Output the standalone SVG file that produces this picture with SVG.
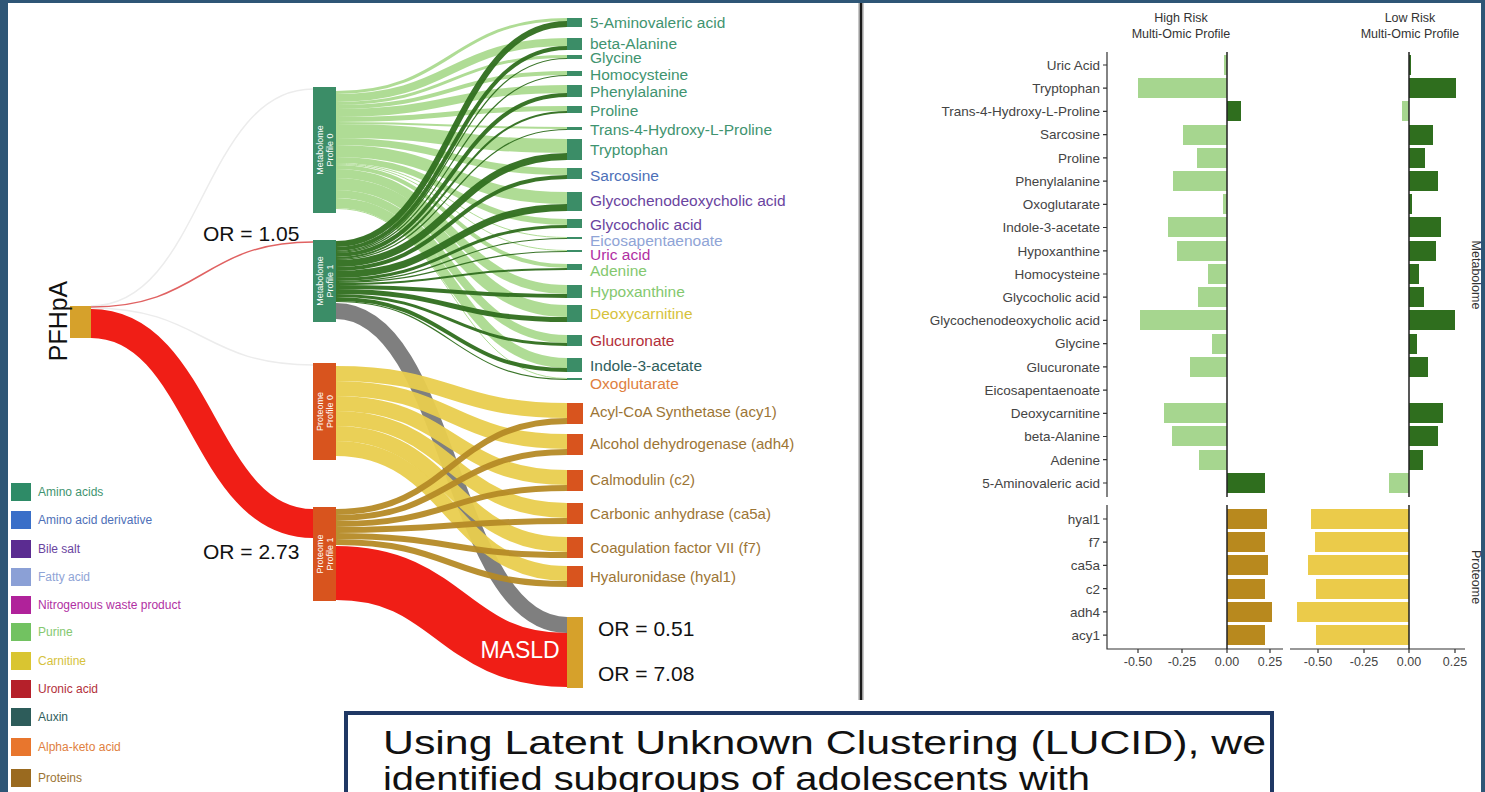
<svg xmlns="http://www.w3.org/2000/svg" width="1485" height="792" viewBox="0 0 1485 792">
<style>
text{font-family:"Liberation Sans",Arial,sans-serif}
.ml{font-size:15.5px}
.pl{font-size:15px;fill:#9C7535}
.am{fill:#3F9470}.de{fill:#4E70B8}.bi{fill:#6A44A0}.fa{fill:#8FA4D6}.ni{fill:#B12FA3}.pu{fill:#84C86F}.ca{fill:#D6C23C}.ur{fill:#B3303A}.au{fill:#2F5E5C}.ke{fill:#E0803E}
.or{font-size:21px;fill:#111}
.nl{font-size:9px;fill:#fff;text-anchor:middle}
.ax{font-size:13.5px;fill:#444;text-anchor:end}
.tk{font-size:12.5px;fill:#444;text-anchor:middle}
.hd{font-size:12.5px;fill:#333;text-anchor:middle}
.lg{font-size:12px}
.l0{fill:none;stroke:#A8D98C;stroke-opacity:.92}
.l1{fill:none;stroke:#2F6E1E;stroke-opacity:.95}
.y0{fill:none;stroke:#E9CD4E;stroke-opacity:.95}
.y1{fill:none;stroke:#B58A26;stroke-opacity:.95}
.mn{fill:#3B8D67}.pn{fill:#D8541E}.gd{fill:#D6A12B}
.bl{fill:#A6D68F}.bd{fill:#2F6E1E}.bo{fill:#B8891E}.by{fill:#EBCB4A}
.axl{stroke:#333;stroke-width:1.2;fill:none}
.zl{stroke:#222;stroke-width:1.5}
</style>
<rect width="1485" height="792" fill="#2E5676"/>
<rect x="8" y="3" width="1473" height="789" fill="#fff"/>
<line x1="861" y1="3" x2="861" y2="700" stroke="#c8c8c8" stroke-width="6"/>
<line x1="861" y1="3" x2="861" y2="700" stroke="#1a1a1a" stroke-width="2.5"/>

<g id="connectors">
<path d="M91 306C202 306 202 89 313 89" stroke="#ececec" stroke-width="1.5" fill="none"/>
<path d="M91 308C202 308 202 365 313 365" stroke="#ececec" stroke-width="1.5" fill="none"/>
<path d="M91 307C202 307 202 242 313 242" stroke="#E06262" stroke-width="1.5" fill="none"/>
<path d="M91 323.5C202 323.5 202 523.5 313 523.5" stroke="#F01E16" stroke-width="29" fill="none"/>
<g class="l0">
<path d="M336 92.5C451 92.5 451 19.5 567 19.5" stroke-width="3"/>
<path d="M336 98C451 98 451 42 567 42" stroke-width="8"/>
<path d="M336 103.5C451 103.5 451 56.5 567 56.5" stroke-width="3"/>
<path d="M336 107C451 107 451 73 567 73" stroke-width="4"/>
<path d="M336 113C451 113 451 89 567 89" stroke-width="8"/>
<path d="M336 119.5C451 119.5 451 108.5 567 108.5" stroke-width="5"/>
<path d="M336 123C451 123 451 128 567 128" stroke-width="2"/>
<path d="M336 131C451 131 451 146 567 146" stroke-width="14"/>
<path d="M336 141.5C451 141.5 451 171.5 567 171.5" stroke-width="7"/>
<path d="M336 151C451 151 451 198 567 198" stroke-width="12"/>
<path d="M336 160C451 160 451 222 567 222" stroke-width="6"/>
<path d="M336 163.5C451 163.5 451 237.5 567 237.5" stroke-width="1"/>
<path d="M336 164.5C451 164.5 451 250.5 567 250.5" stroke-width="1"/>
<path d="M336 167C451 167 451 266 567 266" stroke-width="4"/>
<path d="M336 173.5C451 173.5 451 289.5 567 289.5" stroke-width="9"/>
<path d="M336 184C451 184 451 311 567 311" stroke-width="12"/>
<path d="M336 194C451 194 451 339 567 339" stroke-width="8"/>
<path d="M336 203C451 203 451 363 567 363" stroke-width="10"/>
<path d="M336 208.5C451 208.5 451 378.5 567 378.5" stroke-width="1"/>
</g>
<g class="l1">
<path d="M336 244C451 244 451 24 567 24" stroke-width="6"/>
<path d="M336 249C451 249 451 48 567 48" stroke-width="4"/>
<path d="M336 251.5C451 251.5 451 58.5 567 58.5" stroke-width="1.2"/>
<path d="M336 252.5C451 252.5 451 75.5 567 75.5" stroke-width="1.2"/>
<path d="M336 255C451 255 451 95 567 95" stroke-width="4"/>
<path d="M336 258C451 258 451 112 567 112" stroke-width="2"/>
<path d="M336 259.5C451 259.5 451 129.5 567 129.5" stroke-width="1.2"/>
<path d="M336 263.5C451 263.5 451 156.5 567 156.5" stroke-width="7"/>
<path d="M336 269C451 269 451 177 567 177" stroke-width="4"/>
<path d="M336 274.5C451 274.5 451 207.5 567 207.5" stroke-width="7"/>
<path d="M336 279.5C451 279.5 451 226.5 567 226.5" stroke-width="3"/>
<path d="M336 281.5C451 281.5 451 238.5 567 238.5" stroke-width="1.2"/>
<path d="M336 282.5C451 282.5 451 251.5 567 251.5" stroke-width="1.2"/>
<path d="M336 284C451 284 451 269 567 269" stroke-width="2"/>
<path d="M336 287C451 287 451 296 567 296" stroke-width="4"/>
<path d="M336 291.5C451 291.5 451 319.5 567 319.5" stroke-width="5"/>
<path d="M336 295.5C451 295.5 451 344.5 567 344.5" stroke-width="3"/>
<path d="M336 299C451 299 451 370 567 370" stroke-width="4"/>
<path d="M336 301.5C451 301.5 451 379.5 567 379.5" stroke-width="1.2"/>
</g>
<path d="M336 311C451 311 451 625 567 625" stroke="#7F7F7F" stroke-width="16" fill="none"/>
<g class="y0" stroke-width="15">
<path d="M336 373.5C451 373.5 451 410.5 567 410.5"/>
<path d="M336 388.5C451 388.5 451 441.5 567 441.5"/>
<path d="M336 403.5C451 403.5 451 477.5 567 477.5"/>
<path d="M336 418.5C451 418.5 451 510.5 567 510.5"/>
<path d="M336 433.5C451 433.5 451 544.5 567 544.5"/>
<path d="M336 448.5C451 448.5 451 573.5 567 573.5"/>
</g>
<g class="y1" stroke-width="6">
<path d="M336 512C451 512 451 421 567 421"/>
<path d="M336 518C451 518 451 452 567 452"/>
<path d="M336 524C451 524 451 488 567 488"/>
<path d="M336 530C451 530 451 521 567 521"/>
<path d="M336 536C451 536 451 555 567 555"/>
<path d="M336 542C451 542 451 584 567 584"/>
</g>
<path d="M336 573C451 573 451 660 567 660" stroke="#F01E16" stroke-width="54" fill="none"/>
</g>

<g id="node-pfhpa">
<rect class="gd" x="70" y="306" width="21" height="32"/>
<text transform="translate(67,321) rotate(-90)" font-size="25" fill="#111" text-anchor="middle">PFHpA</text>
</g>
<g id="node-mp0"><rect class="mn" x="313" y="87" width="23" height="126"/>
<text class="nl" transform="translate(324.5,150) rotate(-90)"><tspan x="0" y="-2">Metabolome</tspan><tspan x="0" y="8">Profile 0</tspan></text></g>
<g id="node-mp1"><rect class="mn" x="313" y="240" width="23" height="82"/>
<text class="nl" transform="translate(324.5,281) rotate(-90)"><tspan x="0" y="-2">Metabolome</tspan><tspan x="0" y="8">Profile 1</tspan></text></g>
<g id="node-pp0"><rect class="pn" x="313" y="363" width="23" height="97"/>
<text class="nl" transform="translate(324.5,411.5) rotate(-90)"><tspan x="0" y="-2">Proteome</tspan><tspan x="0" y="8">Profile 0</tspan></text></g>
<g id="node-pp1"><rect class="pn" x="313" y="507" width="23" height="94"/>
<text class="nl" transform="translate(324.5,554) rotate(-90)"><tspan x="0" y="-2">Proteome</tspan><tspan x="0" y="8">Profile 1</tspan></text></g>

<g id="metabolite-nodes" class="mn">
<rect x="567" y="18" width="15" height="9"/>
<rect x="567" y="38" width="15" height="12"/>
<rect x="567" y="55" width="15" height="4"/>
<rect x="567" y="71" width="15" height="5"/>
<rect x="567" y="85" width="15" height="12"/>
<rect x="567" y="106" width="15" height="7"/>
<rect x="567" y="127" width="15" height="3"/>
<rect x="567" y="139" width="15" height="21"/>
<rect x="567" y="168" width="15" height="11"/>
<rect x="567" y="192" width="15" height="19"/>
<rect x="567" y="219" width="15" height="9"/>
<rect x="567" y="237" width="15" height="2"/>
<rect x="567" y="250" width="15" height="2"/>
<rect x="567" y="264" width="15" height="6"/>
<rect x="567" y="285" width="15" height="13"/>
<rect x="567" y="305" width="15" height="17"/>
<rect x="567" y="335" width="15" height="11"/>
<rect x="567" y="358" width="15" height="14"/>
<rect x="567" y="378" width="15" height="2"/>
</g>
<g id="metabolite-labels" class="ml">
<text class="am" x="590" y="28">5-Aminovaleric acid</text>
<text class="am" x="590" y="48.5">beta-Alanine</text>
<text class="am" x="590" y="63">Glycine</text>
<text class="am" x="590" y="80">Homocysteine</text>
<text class="am" x="590" y="97">Phenylalanine</text>
<text class="am" x="590" y="116">Proline</text>
<text class="am" x="590" y="135">Trans-4-Hydroxy-L-Proline</text>
<text class="am" x="590" y="155">Tryptophan</text>
<text class="de" x="590" y="181">Sarcosine</text>
<text class="bi" x="590" y="206">Glycochenodeoxycholic acid</text>
<text class="bi" x="590" y="230">Glycocholic acid</text>
<text class="fa" x="590" y="245.5">Eicosapentaenoate</text>
<text class="ni" x="590" y="260">Uric acid</text>
<text class="pu" x="590" y="276">Adenine</text>
<text class="pu" x="590" y="297">Hypoxanthine</text>
<text class="ca" x="590" y="319">Deoxycarnitine</text>
<text class="ur" x="590" y="346">Glucuronate</text>
<text class="au" x="590" y="371">Indole-3-acetate</text>
<text class="ke" x="590" y="389">Oxoglutarate</text>
</g>
<g id="protein-nodes" class="pn">
<rect x="567" y="403" width="16" height="21"/>
<rect x="567" y="434" width="16" height="21"/>
<rect x="567" y="470" width="16" height="21"/>
<rect x="567" y="503" width="16" height="21"/>
<rect x="567" y="537" width="16" height="21"/>
<rect x="567" y="566" width="16" height="21"/>
</g>
<g id="protein-labels" class="pl">
<text x="590" y="417">Acyl-CoA Synthetase (acy1)</text>
<text x="590" y="449">Alcohol dehydrogenase (adh4)</text>
<text x="590" y="485">Calmodulin (c2)</text>
<text x="590" y="519">Carbonic anhydrase (ca5a)</text>
<text x="590" y="553">Coagulation factor VII (f7)</text>
<text x="590" y="582">Hyaluronidase (hyal1)</text>
</g>
<g id="node-masld">
<rect class="gd" x="567" y="617" width="16" height="71"/>
<text x="520" y="658" font-size="23" fill="#fff" text-anchor="middle">MASLD</text>
</g>
<g id="or-labels" class="or">
<text x="203" y="241">OR = 1.05</text>
<text x="203" y="559">OR = 2.73</text>
<text x="598" y="636">OR = 0.51</text>
<text x="598" y="681">OR = 7.08</text>
</g>

<g id="legend" class="lg">
<rect x="11" y="483" width="20" height="18" fill="#2E8B67"/><text x="38" y="496" class="am">Amino acids</text>
<rect x="11" y="511" width="20" height="18" fill="#3A6FC8"/><text x="38" y="524" class="de">Amino acid derivative</text>
<rect x="11" y="540" width="20" height="18" fill="#5B2C91"/><text x="38" y="553" class="bi">Bile salt</text>
<rect x="11" y="568" width="20" height="18" fill="#8BA0D6"/><text x="38" y="581" class="fa">Fatty acid</text>
<rect x="11" y="596" width="20" height="18" fill="#B0229A"/><text x="38" y="609" class="ni">Nitrogenous waste product</text>
<rect x="11" y="623" width="20" height="18" fill="#72C261"/><text x="38" y="636" class="pu">Purine</text>
<rect x="11" y="652" width="20" height="18" fill="#D9C531"/><text x="38" y="665" class="ca">Carnitine</text>
<rect x="11" y="680" width="20" height="18" fill="#B5202A"/><text x="38" y="693" class="ur">Uronic acid</text>
<rect x="11" y="708" width="20" height="18" fill="#2D5C5A"/><text x="38" y="721" class="au">Auxin</text>
<rect x="11" y="738" width="20" height="18" fill="#E8762D"/><text x="38" y="751" class="ke">Alpha-keto acid</text>
<rect x="11" y="769" width="20" height="18" fill="#9A6A1F"/><text x="38" y="782" fill="#9C7535">Proteins</text>
</g>

<g id="bar-chart">
<text class="hd" x="1181" y="22">High Risk</text>
<text class="hd" x="1181" y="38">Multi-Omic Profile</text>
<text class="hd" x="1410" y="22">Low Risk</text>
<text class="hd" x="1410" y="38">Multi-Omic Profile</text>
<g id="y-labels" class="ax">
<text x="1100" y="70">Uric Acid</text>
<text x="1100" y="93">Tryptophan</text>
<text x="1100" y="116">Trans-4-Hydroxy-L-Proline</text>
<text x="1100" y="139">Sarcosine</text>
<text x="1100" y="163">Proline</text>
<text x="1100" y="186">Phenylalanine</text>
<text x="1100" y="209">Oxoglutarate</text>
<text x="1100" y="232">Indole-3-acetate</text>
<text x="1100" y="256">Hypoxanthine</text>
<text x="1100" y="279">Homocysteine</text>
<text x="1100" y="302">Glycocholic acid</text>
<text x="1100" y="325">Glycochenodeoxycholic acid</text>
<text x="1100" y="348">Glycine</text>
<text x="1100" y="372">Glucuronate</text>
<text x="1100" y="395">Eicosapentaenoate</text>
<text x="1100" y="418">Deoxycarnitine</text>
<text x="1100" y="441">beta-Alanine</text>
<text x="1100" y="465">Adenine</text>
<text x="1100" y="488">5-Aminovaleric acid</text>
<text x="1100" y="524">hyal1</text>
<text x="1100" y="547">f7</text>
<text x="1100" y="570">ca5a</text>
<text x="1100" y="594">c2</text>
<text x="1100" y="617">adh4</text>
<text x="1100" y="640">acy1</text>
</g>
<g id="bars-high">
<rect class="bl" x="1224" y="55" width="3" height="20"/>
<rect class="bl" x="1138" y="78" width="89" height="20"/>
<rect class="bd" x="1227" y="101" width="14" height="20"/>
<rect class="bl" x="1183" y="125" width="44" height="20"/>
<rect class="bl" x="1197" y="148" width="30" height="20"/>
<rect class="bl" x="1173" y="171" width="54" height="20"/>
<rect class="bl" x="1223" y="194" width="4" height="20"/>
<rect class="bl" x="1168" y="217" width="59" height="20"/>
<rect class="bl" x="1177" y="241" width="50" height="20"/>
<rect class="bl" x="1208" y="264" width="19" height="20"/>
<rect class="bl" x="1198" y="287" width="29" height="20"/>
<rect class="bl" x="1140" y="310" width="87" height="20"/>
<rect class="bl" x="1212" y="334" width="15" height="20"/>
<rect class="bl" x="1190" y="357" width="37" height="20"/>
<rect class="bl" x="1164" y="403" width="63" height="20"/>
<rect class="bl" x="1172" y="426" width="55" height="20"/>
<rect class="bl" x="1199" y="450" width="28" height="20"/>
<rect class="bd" x="1227" y="473" width="38" height="20"/>
<rect class="bo" x="1227" y="509" width="40" height="20"/>
<rect class="bo" x="1227" y="532" width="38" height="20"/>
<rect class="bo" x="1227" y="555" width="41" height="20"/>
<rect class="bo" x="1227" y="579" width="38" height="20"/>
<rect class="bo" x="1227" y="602" width="45" height="20"/>
<rect class="bo" x="1227" y="625" width="38" height="20"/>
</g>
<g id="bars-low">
<rect class="bd" x="1409" y="55" width="2" height="20"/>
<rect class="bd" x="1409" y="78" width="47" height="20"/>
<rect class="bl" x="1402" y="101" width="7" height="20"/>
<rect class="bd" x="1409" y="125" width="24" height="20"/>
<rect class="bd" x="1409" y="148" width="16" height="20"/>
<rect class="bd" x="1409" y="171" width="29" height="20"/>
<rect class="bd" x="1409" y="194" width="3" height="20"/>
<rect class="bd" x="1409" y="217" width="32" height="20"/>
<rect class="bd" x="1409" y="241" width="27" height="20"/>
<rect class="bd" x="1409" y="264" width="10" height="20"/>
<rect class="bd" x="1409" y="287" width="15" height="20"/>
<rect class="bd" x="1409" y="310" width="46" height="20"/>
<rect class="bd" x="1409" y="334" width="8" height="20"/>
<rect class="bd" x="1409" y="357" width="19" height="20"/>
<rect class="bd" x="1409" y="403" width="34" height="20"/>
<rect class="bd" x="1409" y="426" width="29" height="20"/>
<rect class="bd" x="1409" y="450" width="14" height="20"/>
<rect class="bl" x="1389" y="473" width="20" height="20"/>
<rect class="by" x="1311" y="509" width="98" height="20"/>
<rect class="by" x="1315" y="532" width="94" height="20"/>
<rect class="by" x="1308" y="555" width="101" height="20"/>
<rect class="by" x="1316" y="579" width="93" height="20"/>
<rect class="by" x="1297" y="602" width="112" height="20"/>
<rect class="by" x="1316" y="625" width="93" height="20"/>
</g>
<g id="axes">
<path class="axl" d="M1107 52V497M1107 505V649H1283M1290 649H1465"/>
<path class="axl" d="M1103 65H1107M1103 88.2H1107M1103 111.4H1107M1103 134.7H1107M1103 157.9H1107M1103 181.1H1107M1103 204.3H1107M1103 227.5H1107M1103 250.8H1107M1103 274H1107M1103 297.2H1107M1103 320.4H1107M1103 343.6H1107M1103 366.9H1107M1103 390.1H1107M1103 413.3H1107M1103 436.5H1107M1103 459.7H1107M1103 483H1107M1103 519H1107M1103 542.2H1107M1103 565.4H1107M1103 588.7H1107M1103 611.9H1107M1103 635.1H1107"/>
<path class="axl" d="M1138 649V653M1182 649V653M1227 649V653M1270 649V653M1318 649V653M1364 649V653M1409 649V653M1455 649V653"/>
<path class="zl" d="M1227 52V497M1227 505V649M1409 52V497M1409 505V649"/>
<g class="tk">
<text x="1138" y="666">-0.50</text><text x="1182" y="666">-0.25</text><text x="1227" y="666">0.00</text><text x="1270" y="666">0.25</text>
<text x="1318" y="666">-0.50</text><text x="1364" y="666">-0.25</text><text x="1409" y="666">0.00</text><text x="1455" y="666">0.25</text>
</g>
<text class="hd" transform="translate(1472,275) rotate(90)">Metabolome</text>
<text class="hd" transform="translate(1472,577) rotate(90)">Proteome</text>
</g>
</g>

<g id="caption">
<rect x="346" y="713" width="926" height="95" fill="#fff" stroke="#1F3864" stroke-width="4"/>
<text x="383" y="754" font-family="Roboto, sans-serif" font-size="33" fill="#111" textLength="883" lengthAdjust="spacingAndGlyphs">Using Latent Unknown Clustering (LUCID), we</text>
<text x="383" y="790" font-family="Roboto, sans-serif" font-size="33" fill="#111" textLength="707" lengthAdjust="spacingAndGlyphs">identified subgroups of adolescents with</text>
</g>
</svg>
